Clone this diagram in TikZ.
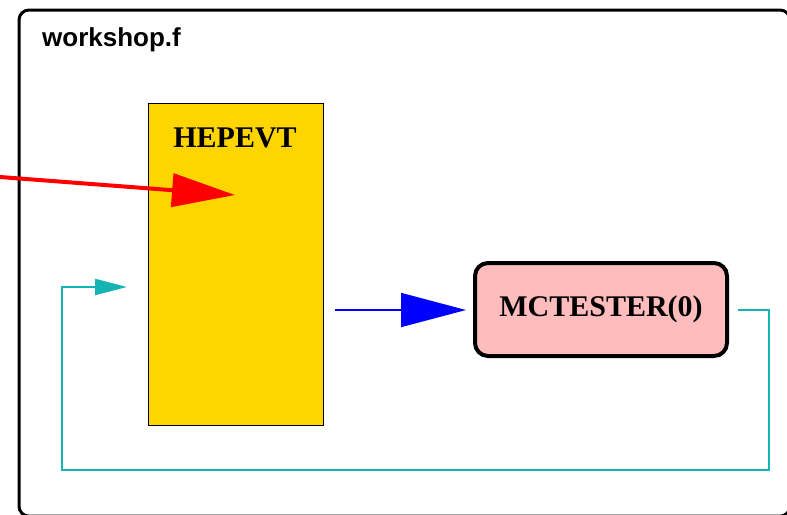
\documentclass[tikz,border=0pt]{standalone}
\usepackage{fontspec}
\setmainfont{Liberation Serif}
\newfontfamily\labelsans{Liberation Sans}
\usetikzlibrary{arrows.meta}
\definecolor{hepyellow}{RGB}{255,213,0}
\definecolor{mctpink}{RGB}{255,188,188}
\definecolor{loopcyan}{RGB}{20,180,180}
\tikzset{
  frame/.style={draw=black, line width=3, rounded corners=10},
  commonbox/.style={draw=black, line width=1.2, fill=hepyellow},
  mctbox/.style={draw=black, line width=4, rounded corners=13, fill=mctpink,
    font=\fontsize{30}{35}\selectfont\bfseries, inner sep=0},
  boxtitle/.style={font=\fontsize{30}{36}\selectfont\bfseries, inner sep=0},
  filetitle/.style={font=\labelsans\fontsize{26}{30}\selectfont\bfseries, inner sep=0, anchor=base west},
  redflow/.style={draw=red, line width=4, -{Triangle[length=63,width=33]}},
  blueflow/.style={draw=blue, line width=1.6, -{Triangle[length=65,width=34]}},
  cyanflow/.style={draw=loopcyan, line width=2, -{Triangle[length=32,width=16]}},
}
\begin{document}
\begin{tikzpicture}[x=1pt,y=-1pt]
\useasboundingbox (0,0) rectangle (787,514);
\begin{scope}
\clip (0,0) rectangle (787,514);
\draw[frame] (19,10) rectangle (790,516.2);
\end{scope}
\node[filetitle] (ftitle) at (42,46) {workshop.f};
\node[commonbox, minimum width=175, minimum height=322, anchor=north west, inner sep=0] (hepevt) at (148,103) {};
\node[boxtitle] (heptitle) at (235,138) {HEPEVT};
\node[mctbox, minimum width=252, minimum height=93] (mct) at (601,309.5) {MCTESTER(0)};
\coordinate (redin) at (0,177);
\coordinate (redtip) at (235,195);
\coordinate (bluefrom) at (335,310);
\coordinate (blueto) at (466,310);
\coordinate (cyfrom) at (738,310);
\coordinate (cyr) at (769,310);
\coordinate (cybr) at (769,470);
\coordinate (cybl) at (62,470);
\coordinate (cytl) at (62,287);
\coordinate (cytip) at (127,287);
\draw[redflow] (redin) -- (redtip);
\draw[blueflow] (bluefrom) -- (blueto);
\draw[cyanflow] (cyfrom) -- (cyr) -- (cybr) -- (cybl) -- (cytl) -- (cytip);
\end{tikzpicture}
\end{document}
